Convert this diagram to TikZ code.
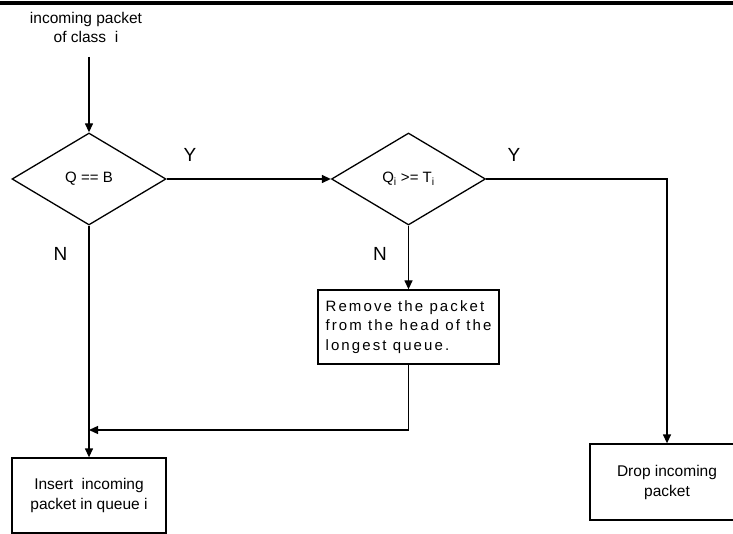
\documentclass[tikz,border=0pt]{standalone}
\usepackage{fontspec}
\setmainfont{Liberation Sans}
\usetikzlibrary{shapes.geometric,arrows.meta}
\begin{document}
\begin{tikzpicture}[x=1pt,y=-1pt, line width=1.3pt,
  dec/.style={diamond, draw, minimum width=154pt, minimum height=92pt, inner sep=0pt, font=\fontsize{15}{18}\selectfont},
  proc/.style={rectangle, draw, align=center, inner sep=0pt, font=\fontsize{15.5}{20}\selectfont},
  arr/.style={-{Triangle[length=9pt,width=8pt]}},
  yn/.style={font=\fontsize{19}{20}\selectfont}]
\clip (0,0) rectangle (733,534);
\fill (0,1.5) rectangle (733,5);
\node[align=center, font=\fontsize{15.5}{19}\selectfont] (in) at (86,27) {incoming packet\\of class\ \ i};
\coordinate (start) at (89,57);
\node[dec] (d1) at (89,179) {Q == B};
\node[dec] (d2) at (408.5,179) {Q\textsubscript{i} >= T\textsubscript{i}};
\node[proc, minimum width=181pt, minimum height=74pt, align=left,
  font=\fontsize{15}{19.5}\selectfont\addfontfeature{LetterSpace=14}] (rm) at (408.5,327)
  {Remove the packet\\from the head of the\\longest queue.};
\node[proc, minimum width=154pt, minimum height=75pt] (ins) at (89,495.5) {Insert\ \ incoming\\packet in queue i};
\node[proc, minimum width=154pt, minimum height=76pt] (drop) at (667,482) {Drop incoming\\packet};
\coordinate (c1) at (408.5,430);
\coordinate (j1) at (89,430);
\coordinate (c2) at (667,179);
\draw[arr] (start) -- (d1.north);
\draw[arr] (d1.east) -- (d2.west);
\draw[arr] (d2.south) -- (rm.north);
\draw[arr] (d1.south) -- (ins.north);
\draw[arr] (rm.south) -- (c1) -- (j1);
\draw[arr] (d2.east) -- (c2) -- (drop.north);
\node[yn] (y1) at (190,155) {Y};
\node[yn] (n1) at (60.5,254) {N};
\node[yn] (y2) at (514,155) {Y};
\node[yn] (n2) at (380,254) {N};
\end{tikzpicture}
\end{document}
